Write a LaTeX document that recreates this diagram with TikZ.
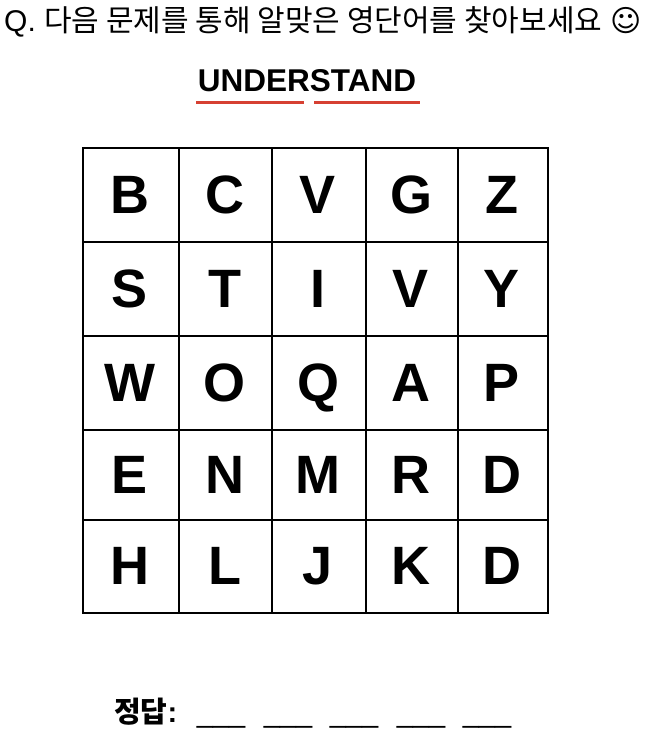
\documentclass[tikz,border=0pt]{standalone}
\usepackage{fontspec}
\setmainfont{Liberation Sans}
\newfontfamily\kr{Noto Sans CJK KR}
\newfontfamily\dv{DejaVu Sans}
\definecolor{ured}{RGB}{214,64,50}
\begin{document}
\begin{tikzpicture}[x=1pt,y=-1pt,
  letter/.style={inner sep=0pt,anchor=base,font=\fontsize{54}{54}\selectfont\bfseries},
  blank/.style={inner sep=0pt,anchor=base,font=\fontsize{29}{29}\selectfont},
  uline/.style={draw=ured,line width=3pt}]
\useasboundingbox (0,0) rectangle (649,741);
\node[anchor=base west,inner sep=0pt,font=\fontsize{30}{30}\selectfont] (title) at (4,32)
  {Q. {\kr 다음 문제를 통해 알맞은 영단어를 찾아보세요} {\dv ☺}};
\node[anchor=base,inner sep=0pt,font=\fontsize{31.5}{31.5}\selectfont\bfseries] (word) at (307,92) {UNDERSTAND};
\coordinate (u1a) at (196,103); \coordinate (u1b) at (304,103);
\coordinate (u2a) at (314,103); \coordinate (u2b) at (420,103);
\draw[uline] (u1a) -- (u1b);
\draw[uline] (u2a) -- (u2b);
% grid
\def\xs{{83,179,272,366,458,548}}
\def\ys{{148,242,336,430,520,613}}
\foreach \r/\row in {0/{B,C,V,G,Z},1/{S,T,I,V,Y},2/{W,O,Q,A,P},3/{E,N,M,R,D},4/{H,L,J,K,D}}{
  \foreach \L [count=\c from 0] in \row {
    \pgfmathsetmacro{\xa}{\xs[\c]}
    \pgfmathsetmacro{\xb}{\xs[\c+1]}
    \pgfmathsetmacro{\ya}{\ys[\r]}
    \pgfmathsetmacro{\yb}{\ys[\r+1]}
    \draw[line width=1.4pt] (\xa,\ya) rectangle (\xb,\yb);
    \node[letter] (c\r\c) at ({(\xa+\xb)/2-1},{(\ya+\yb)/2+18}) {\L};
  }
}
\node[anchor=base west,inner sep=0pt,font=\fontsize{29}{29}\selectfont] (ans) at (114,722) {{\kr\bfseries 정답}\textbf{:}};
\foreach \x [count=\i] in {221,288,354,421,487}{
  \node[blank] (b\i) at (\x,722) {\_\_\_};
}
\end{tikzpicture}
\end{document}
